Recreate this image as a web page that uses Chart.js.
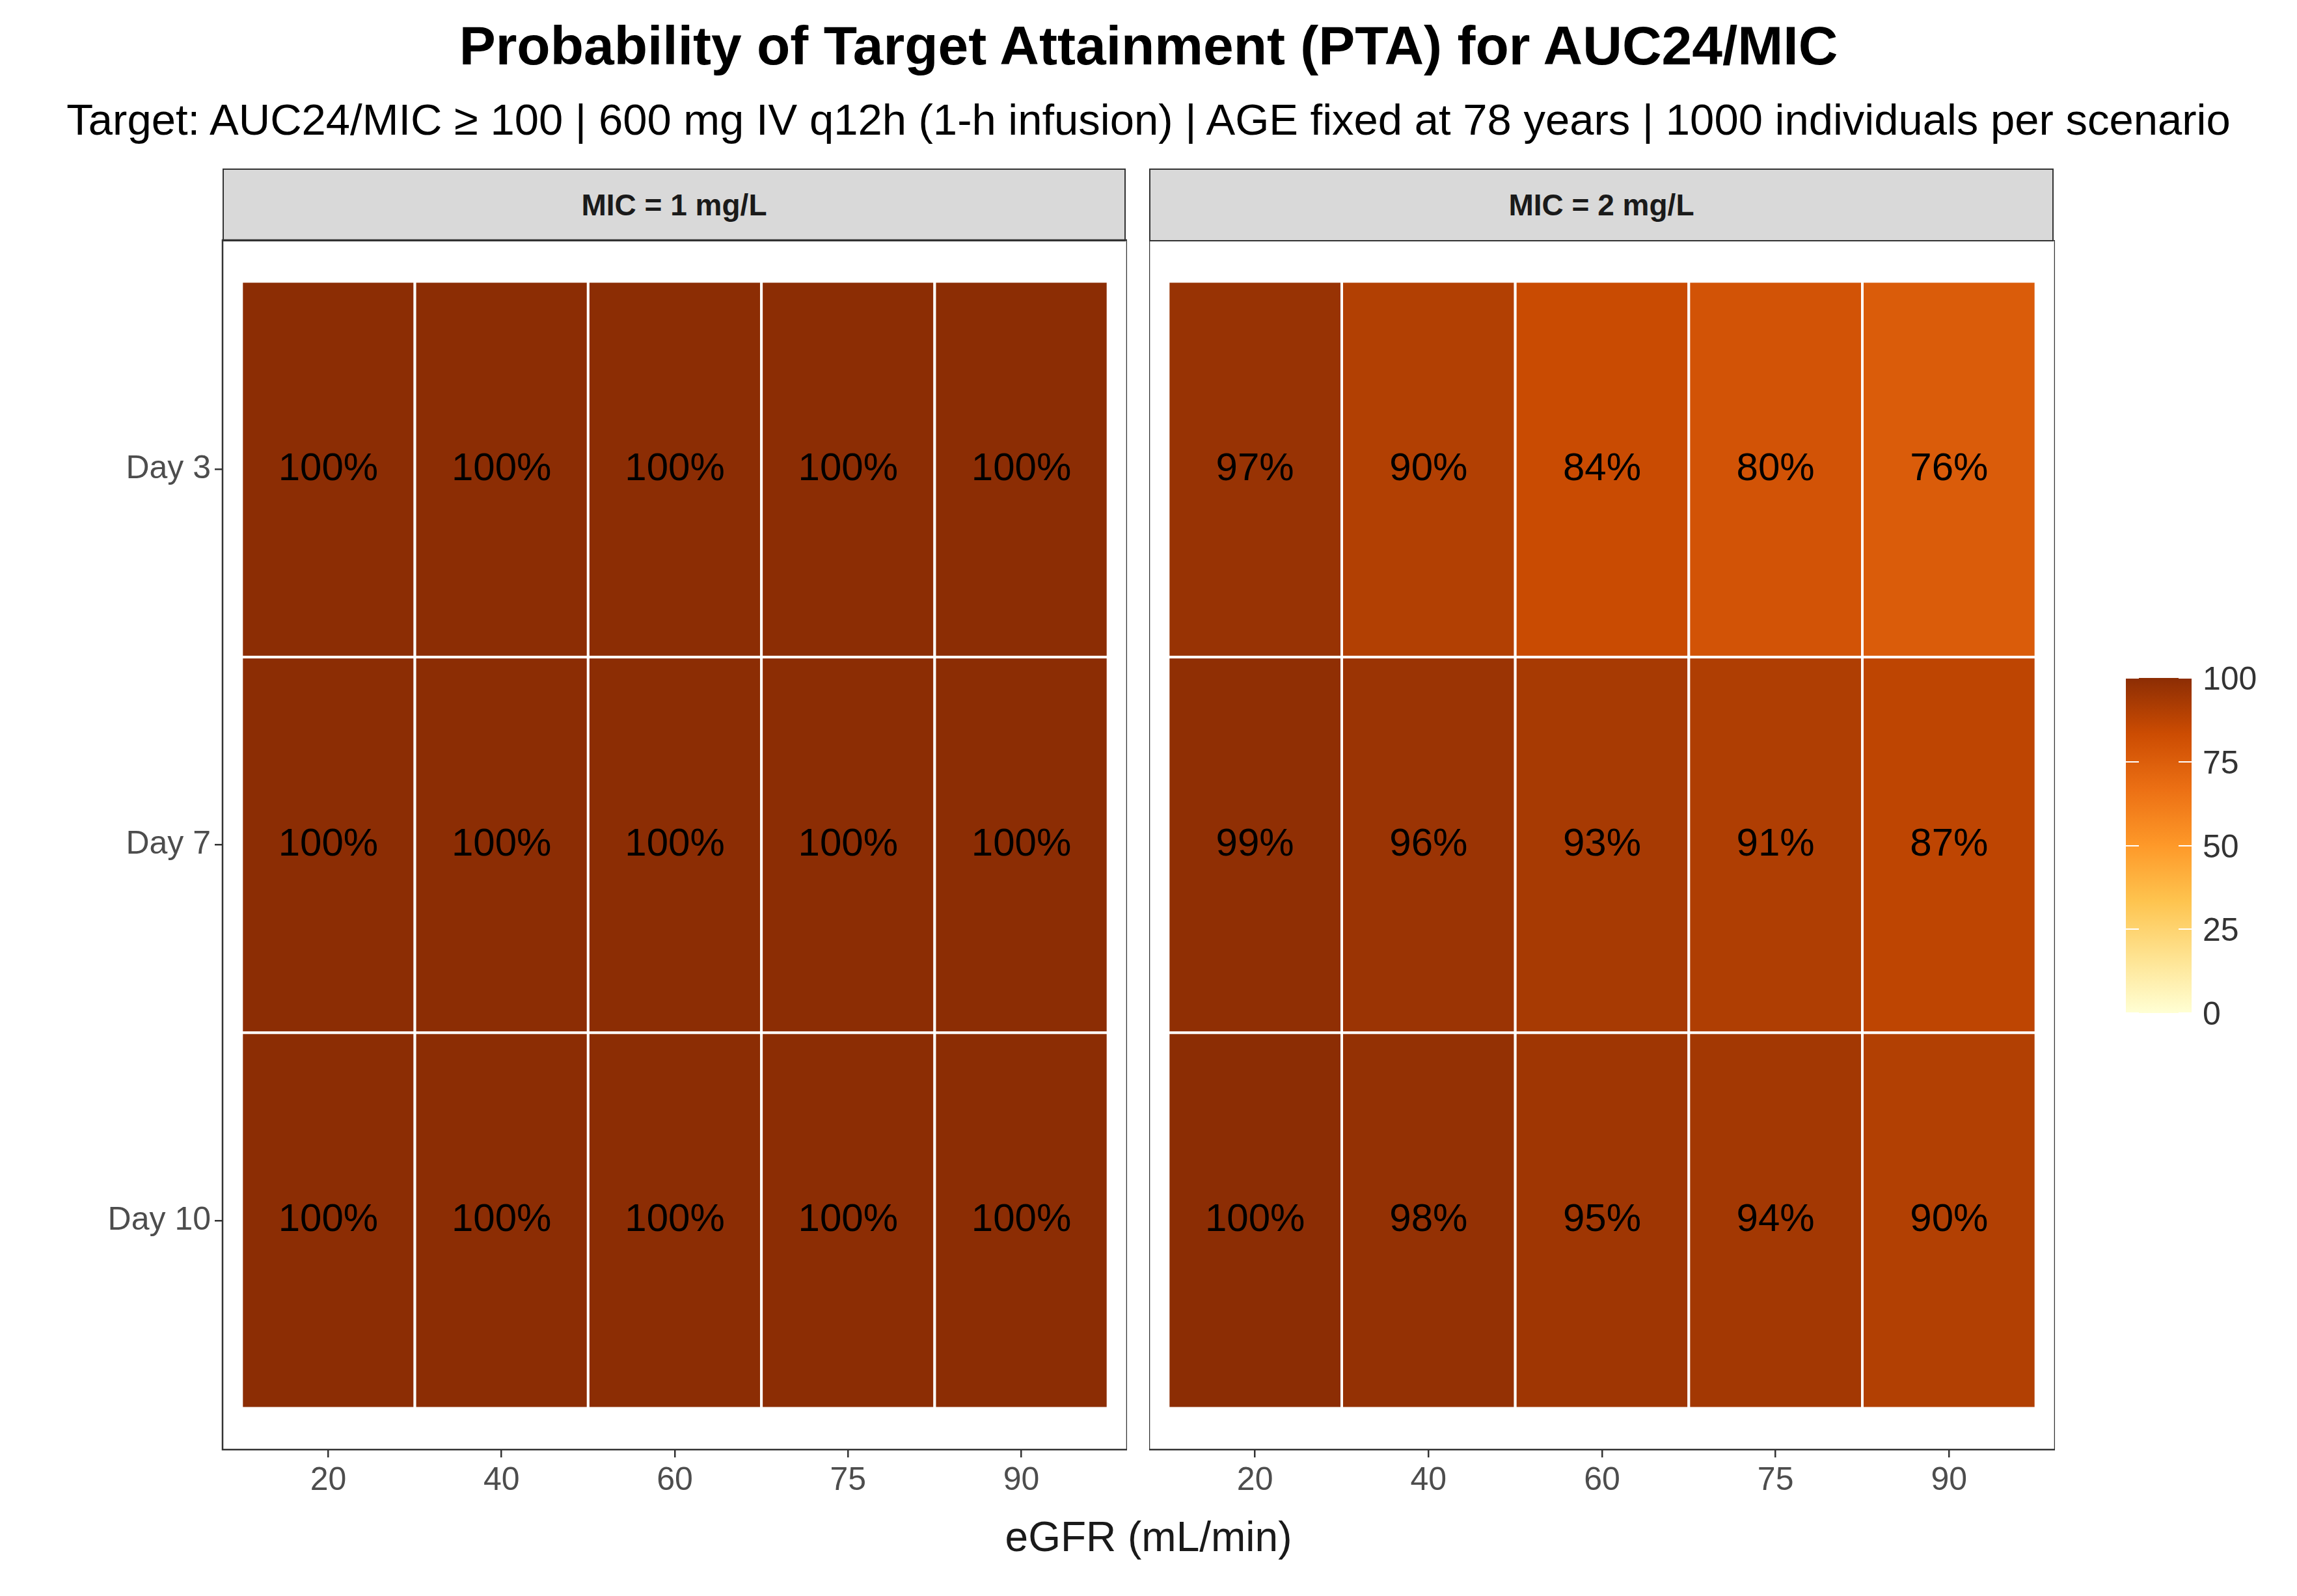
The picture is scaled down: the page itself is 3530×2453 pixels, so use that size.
<!DOCTYPE html>
<html><head><meta charset="utf-8">
<script src="https://cdn.jsdelivr.net/npm/chart.js@4"></script>
<style>
body{margin:0;width:3530px;height:2453px;background:#fff;font-family:Arial,"Liberation Sans",sans-serif;position:relative;overflow:hidden}
.abs{position:absolute}
.strip{position:absolute;background:#D9D9D9;border:2.5px solid #333;box-sizing:border-box;display:flex;align-items:center;justify-content:center;font-weight:bold;font-size:46px;color:#1A1A1A}
</style></head><body>
<div class="abs" style="left:0;width:3530px;top:22px;text-align:center;font-weight:bold;font-size:84px">Probability of Target Attainment (PTA) for AUC24/MIC</div>
<div class="abs" style="left:0;width:3530px;top:145px;text-align:center;font-size:67px;white-space:nowrap">Target: AUC24/MIC ≥ 100 | 600 mg IV q12h (1-h infusion) | AGE fixed at 78 years | 1000 individuals per scenario</div>
<div class="strip" style="left:342px;top:259px;width:1388px;height:112px">MIC = 1 mg/L</div>
<div class="strip" style="left:1766px;top:259px;width:1390px;height:112px">MIC = 2 mg/L</div>
<canvas id="c1" class="abs"></canvas>
<canvas id="c2" class="abs"></canvas>
<div class="abs" style="left:0;width:3530px;top:2325px;text-align:center;font-size:64px;color:#1A1A1A">eGFR (mL/min)</div>
<div class="abs" style="left:3267px;top:1042px;width:101px;height:515px;background:linear-gradient(to top,#FFFFD4,#FEE391,#FEC44F,#FE9929,#EC7014,#CC4C02,#8C2D04)"></div>
<div id="leg"></div>
<script>
const egfr = ["20","40","60","75","90"];
const days = ["Day 10","Day 7","Day 3"]; // bottom to top
const mic1 = { "Day 3":[100,100,100,100,100], "Day 7":[100,100,100,100,100], "Day 10":[100,100,100,100,100] };
const mic2 = { "Day 3":[97,90,84,80,76], "Day 7":[99,96,93,91,87], "Day 10":[100,98,95,94,90] };
const legendTicks = [0,25,50,75,100];

const stops = ["#FFFFD4","#FEE391","#FEC44F","#FE9929","#EC7014","#CC4C02","#8C2D04"];
function hex(h){return [1,3,5].map(i=>parseInt(h.substr(i,2),16));}
function col(v){const t=v/100*(stops.length-1);const i=Math.min(Math.floor(t),stops.length-2);const f=t-i;
 const a=hex(stops[i]),b=hex(stops[i+1]);return `rgb(${a.map((x,k)=>Math.round(x+(b[k]-x)*f)).join(",")})`;}

const leg=document.getElementById('leg');
legendTicks.forEach(v=>{const y=1557-v/100*515;
 leg.insertAdjacentHTML('beforeend',`<div class="abs" style="left:3267px;top:${y-1}px;width:20px;height:2px;background:#fff"></div><div class="abs" style="left:3348px;top:${y-1}px;width:20px;height:2px;background:#fff"></div><div class="abs" style="left:3385px;top:${y-28}px;font-size:50px;color:#333">${v}</div>`);});

const tiles={id:'tiles',beforeDatasetsDraw(ch){const {ctx,scales:{x,y}}=ch;const m=ch.options.plugins.tiles.m;
 ctx.save();days.forEach((d,r)=>egfr.forEach((e,c)=>{const v=m[d][c];
  const x0=x.getPixelForValue(c-0.5),x1=x.getPixelForValue(c+0.5),y0=y.getPixelForValue(r+0.5),y1=y.getPixelForValue(r-0.5);
  ctx.fillStyle=col(v);ctx.fillRect(x0,y0,x1-x0,y1-y0);ctx.strokeStyle='#fff';ctx.lineWidth=4;ctx.strokeRect(x0,y0,x1-x0,y1-y0);
  ctx.fillStyle='#000';ctx.font='60px Arial, "Liberation Sans"';ctx.textAlign='center';ctx.textBaseline='middle';
  ctx.fillText(v+'%',(x0+x1)/2,(y0+y1)/2);}));
 const a=ch.chartArea;ctx.strokeStyle='#333';ctx.lineWidth=2.5;ctx.strokeRect(a.left,a.top,a.right-a.left,a.bottom-a.top);ctx.restore();}};

function build(cv,m,showY,w,h){
 cv.width=w;cv.height=h;cv.style.width=w+'px';cv.style.height=h+'px';
 const pts=[];days.forEach((d,r)=>egfr.forEach((e,c)=>pts.push({x:c,y:r})));
 return new Chart(cv,{type:'scatter',data:{datasets:[{data:pts,pointRadius:0}]},plugins:[tiles],
 options:{responsive:false,animation:false,layout:{padding:0},
  plugins:{legend:{display:false},tooltip:{enabled:false},tiles:{m}},
  scales:{
   x:{type:'linear',min:-0.61,max:4.61,afterBuildTicks(s){s.ticks=egfr.map((e,i)=>({value:i}));},
      afterFit(s){s.height=100;},
      ticks:{callback:(v)=>egfr[v],color:'#4D4D4D',font:{size:50,family:'Arial'},padding:6,maxRotation:0},
      grid:{drawOnChartArea:false,tickLength:12,color:'#333',lineWidth:2.5},border:{display:false}},
   y:{type:'linear',min:-0.61,max:2.61,afterBuildTicks(s){s.ticks=days.map((d,i)=>({value:i}));},
      afterFit(s){s.width=showY?342:0;},
      ticks:{display:showY,callback:(v)=>days[v],color:'#4D4D4D',font:{size:50,family:'Arial'},padding:6},
      grid:{display:showY,drawOnChartArea:false,tickLength:12,color:'#333',lineWidth:2.5},border:{display:false}}}}});
}
function make(id,m,showY,w,left){
 const cv=document.getElementById(id);
 let ch=build(cv,m,showY,w,1959);
 const top=ch.chartArea.top, lft=ch.chartArea.left;
 ch.destroy();
 ch=build(cv,m,showY,w+lft+2,1959+top);
 cv.style.top=(369-ch.chartArea.top)+'px';
 cv.style.left=(left-ch.chartArea.left)+'px';
}
make('c1',mic1,true,1388,342);
make('c2',mic2,false,1390,1766);
</script></body></html>
